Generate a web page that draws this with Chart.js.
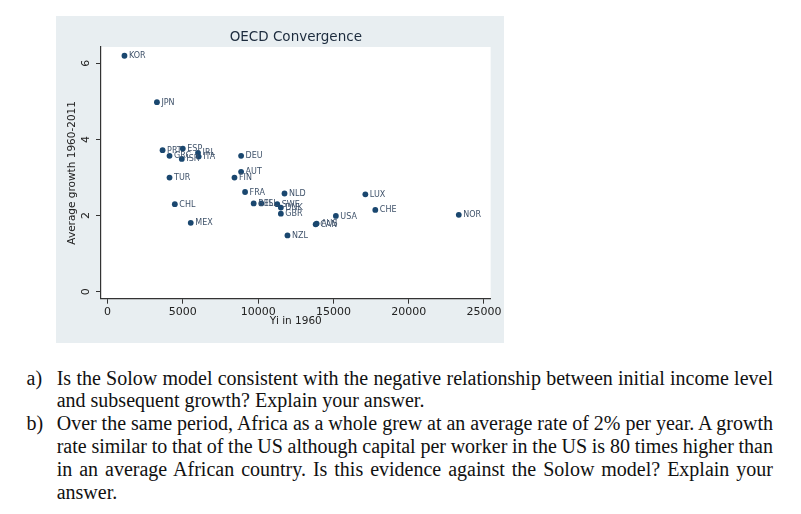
<!DOCTYPE html>
<html>
<head>
<meta charset="utf-8">
<script src="https://cdn.jsdelivr.net/npm/chart.js@4/dist/chart.umd.min.js"></script>
<style>
  body { margin: 0; background: #fff; width: 801px; height: 514px; position: relative; overflow: hidden; }
  #oecd { position: absolute; left: 56px; top: 16px; }
  .item { position: absolute; left: 0; width: 801px; font-family: "Liberation Serif", "Times New Roman", serif; font-size: 20px; line-height: 22.9px; color: #111; }
  .item .lbl { position: absolute; left: 26.5px; top: 0; }
  .item .txt { position: absolute; left: 56.7px; top: 0; width: 716.3px; }
  .item .ln { white-space: nowrap; }
  .item .j { white-space: normal; word-spacing: -3px; text-align: justify; text-align-last: justify; }
</style>
</head>
<body>
<canvas id="oecd" width="448" height="327"></canvas>

<div class="item" style="top:366.5px">
  <span class="lbl">a)</span>
  <div class="txt">
    <div class="ln j">Is the Solow model consistent with the negative relationship between initial income level</div>
    <div class="ln">and subsequent growth? Explain your answer.</div>
  </div>
</div>
<div class="item" style="top:412.3px">
  <span class="lbl">b)</span>
  <div class="txt">
    <div class="ln j">Over the same period, Africa as a whole grew at an average rate of 2% per year. A growth</div>
    <div class="ln j">rate similar to that of the US although capital per worker in the US is 80 times higher than</div>
    <div class="ln j">in an average African country. Is this evidence against the Solow model? Explain your</div>
    <div class="ln">answer.</div>
  </div>
</div>

<script>
// country codes, GDP per worker in 1960 and average growth 1960-2011
var countries = ['KOR','JPN','PRT','GRC','ESP','ISR','IRL','ITA','TUR','DEU','AUT','FIN','FRA','BEL','ISL','SWE','DNK','GBR','NLD','NZL','CAN','AUS','USA','LUX','CHE','NOR','CHL','MEX'];
var yi1960 = [1122, 3279, 3653, 4115, 4996, 4930, 6008, 6052, 4115, 8869, 8869, 8429, 9133, 9705, 10211, 11268, 11510, 11510, 11752, 11950, 13820, 13886, 15163, 17121, 17782, 23327, 4467, 5524];
var growth = [6.20, 4.98, 3.72, 3.57, 3.76, 3.49, 3.65, 3.55, 3.00, 3.57, 3.15, 3.00, 2.62, 2.32, 2.32, 2.30, 2.21, 2.05, 2.58, 1.48, 1.77, 1.79, 1.99, 2.56, 2.15, 2.02, 2.30, 1.81];
var xTicks = [0, 5000, 10000, 15000, 20000, 25000];
var yTicks = [0, 2, 4, 6];

var points = [];
for (var i = 0; i < countries.length; i++) {
    points.push({x: yi1960[i], y: growth[i]});
}

// stata-like grey-blue graph region with white plot region
var background = {
    id: 'background',
    beforeDraw: function(chart) {
        var ctx = chart.ctx;
        var a = chart.chartArea;
        ctx.save();
        ctx.fillStyle = '#e8eef1';
        ctx.fillRect(0, 0, chart.width, chart.height);
        ctx.fillStyle = '#ffffff';
        ctx.fillRect(a.left, a.top, a.right - a.left, a.bottom - a.top);
        ctx.restore();
    }
};

// marker labels to the right of each point
var markerLabels = {
    id: 'markerLabels',
    afterDatasetsDraw: function(chart) {
        var ctx = chart.ctx;
        var meta = chart.getDatasetMeta(0);
        ctx.save();
        ctx.font = '8px "DejaVu Sans"';
        ctx.fillStyle = '#3f526a';
        ctx.textAlign = 'left';
        ctx.textBaseline = 'middle';
        meta.data.forEach(function(pt, i) {
            ctx.fillText(countries[i], pt.x + 4.5, pt.y + 0.5);
        });
        ctx.restore();
    }
};

// vertical y tick labels like stata
var yLabels = {
    id: 'yLabels',
    afterDraw: function(chart) {
        var ctx = chart.ctx;
        var ys = chart.scales.y;
        ctx.save();
        ctx.font = '11px "DejaVu Sans"';
        ctx.fillStyle = '#222';
        ctx.textAlign = 'center';
        ctx.textBaseline = 'middle';
        yTicks.forEach(function(v) {
            ctx.save();
            ctx.translate(30.3, ys.getPixelForValue(v));
            ctx.rotate(-Math.PI / 2);
            ctx.fillText(String(v), 0, 0);
            ctx.restore();
        });
        ctx.restore();
    }
};

var config = {
    type: 'scatter',
    data: {
        datasets: [{
            data: points,
            pointRadius: 2.9,
            pointHoverRadius: 2.9,
            pointBackgroundColor: '#1a476f',
            pointBorderWidth: 0
        }]
    },
    options: {
        responsive: false,
        animation: false,
        layout: { padding: { left: 0, right: 11.3, top: 0, bottom: 0 } },
        plugins: {
            legend: { display: false },
            tooltip: { enabled: false },
            title: {
                display: true,
                text: 'OECD Convergence',
                fullSize: false,
                color: '#1c2b3d',
                font: { family: 'DejaVu Sans', size: 13.5, weight: 'normal' },
                padding: { top: 13.5, bottom: 1.3 }
            }
        },
        scales: {
            x: {
                type: 'linear',
                min: -436,
                max: 25442,
                afterBuildTicks: function(scale) {
                    scale.ticks = xTicks.map(function(v) { return {value: v}; });
                },
                afterFit: function(scale) { scale.height = 44.3; },
                grid: { drawOnChartArea: false, drawTicks: true, tickLength: 5, color: '#333', lineWidth: 1 },
                border: { display: true, color: '#333', width: 1.2 },
                ticks: {
                    autoSkip: false,
                    maxRotation: 0,
                    padding: 2.3,
                    color: '#222',
                    font: { family: 'DejaVu Sans', size: 11 },
                    callback: function(v) { return String(v); }
                },
                title: {
                    display: true,
                    text: 'Yi in 1960',
                    color: '#222',
                    font: { family: 'DejaVu Sans', size: 10.5 },
                    padding: { top: 0, bottom: 15 }
                }
            },
            y: {
                type: 'linear',
                min: -0.184,
                max: 6.43,
                afterBuildTicks: function(scale) {
                    scale.ticks = yTicks.map(function(v) { return {value: v}; });
                },
                afterFit: function(scale) { scale.width = 45; },
                grid: { drawOnChartArea: false, drawTicks: true, tickLength: 5, color: '#333', lineWidth: 1 },
                border: { display: true, color: '#333', width: 1.2 },
                ticks: { display: false },
                title: {
                    display: true,
                    text: 'Average growth 1960-2011',
                    color: '#222',
                    font: { family: 'DejaVu Sans', size: 10.5 },
                    padding: { top: 10.2, bottom: 0 }
                }
            }
        }
    },
    plugins: [background, markerLabels, yLabels]
};

var oecdChart = new Chart(document.getElementById('oecd'), config);
</script>
</body>
</html>
